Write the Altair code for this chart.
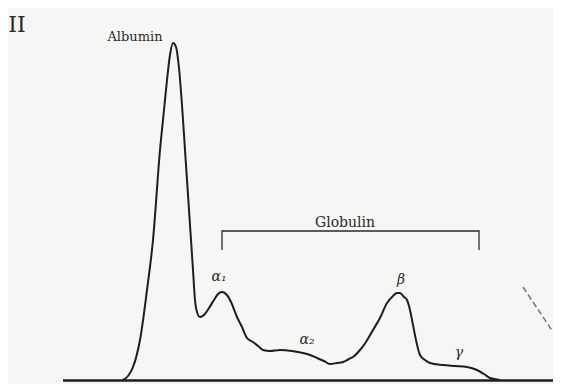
import altair as alt
import pandas as pd

# Electrophoresis trace (x = migration position, h = height above baseline)
curve_x = [123, 128, 133, 140, 147, 153, 160, 164, 167, 170, 173, 176, 179, 182, 185,
           189, 193, 195, 197, 200, 204, 209, 214, 218, 222, 226, 231, 237, 242, 247, 253, 258,
           263, 270, 280, 292, 303, 310, 317, 324, 330, 337, 343, 349, 353, 360, 366, 373, 380,
           387, 393, 397, 400, 404, 407, 410, 413, 416, 420, 425, 430, 443, 455, 467, 477,
           484, 490, 500]
curve_h = [0, 4, 13, 40, 90, 140, 230, 270, 300, 325, 337, 333, 312, 275, 230,
           170, 110, 80, 68, 63, 65, 72, 80, 86, 88, 86, 78, 63, 53, 42, 38, 34,
           30, 29, 30, 29, 27, 25, 22, 19, 16, 17, 18, 21, 23, 30, 38, 50, 62,
           77, 84, 87, 87, 83, 80, 70, 55, 40, 25, 20, 17, 15, 14, 13, 10,
           6, 2, 0]

# Globulin bracket
bracket_x = [222, 222, 479, 479]
bracket_h = [130, 149, 149, 130]

# Baseline
base_x = [63, 561]

# Labels
label_text = ["II", "Albumin", "Globulin", "α₁", "α₂", "β", "γ"]
label_x = [17, 135, 345, 219, 307, 401, 459]
label_h = [355, 343, 157, 103, 40, 100, 27]
label_size = [22, 13, 14, 14, 14, 14, 14]
label_style = ["normal", "normal", "normal", "italic", "italic", "italic", "italic"]

# Scan mark at right
mark_x = [523, 553]
mark_h = [93, 48]

xs = alt.Scale(domain=[8, 553], nice=False, zero=False)
ys = alt.Scale(domain=[-4, 372], nice=False, zero=False)
X = lambda: alt.X("x:Q", scale=xs, axis=None)
Y = lambda: alt.Y("h:Q", scale=ys, axis=None)

curve = alt.Chart(pd.DataFrame({"x": curve_x, "h": curve_h})).mark_line(
    color="#1e1e1e", strokeWidth=2, interpolate="monotone", clip=True
).encode(x=X(), y=Y())

bdf = pd.DataFrame({"x": bracket_x, "h": bracket_h, "o": list(range(len(bracket_x)))})
bracket = alt.Chart(bdf).mark_line(color="#2a2a2a", strokeWidth=1.3).encode(
    x=X(), y=Y(), order="o:Q")

base = alt.Chart(pd.DataFrame({"x": [base_x[0]], "x2": [base_x[1]], "h": [-0.5]})).mark_rule(
    color="#1e1e1e", strokeWidth=2.5, clip=True
).encode(x=X(), x2="x2:Q", y=Y())

scan = alt.Chart(pd.DataFrame({"x": [mark_x[0]], "x2": [mark_x[1]], "h": [mark_h[0]], "h2": [mark_h[1]]})).mark_rule(
    color="#777777", strokeWidth=1.5, strokeDash=[6, 3]
).encode(x=X(), x2="x2:Q", y=Y(), y2="h2:Q")

ldf = pd.DataFrame({"x": label_x, "h": label_h, "t": label_text, "s": label_size, "st": label_style})
layers = [curve, bracket, base, scan]
for i in range(len(label_text)):
    sub = ldf.iloc[[i]]
    layers.append(alt.Chart(sub).mark_text(
        font="DejaVu Serif", fontSize=label_size[i], fontStyle=label_style[i],
        color="#2a2a2a", align="center", baseline="middle"
    ).encode(x=X(), y=Y(), text="t:N"))

chart = alt.layer(*layers).properties(
    width=545, height=376, padding=0, autosize="none", background="#f6f6f4"
).configure_view(stroke=None)

chart.save("out.html", embed_options={"renderer": "svg", "actions": False})
